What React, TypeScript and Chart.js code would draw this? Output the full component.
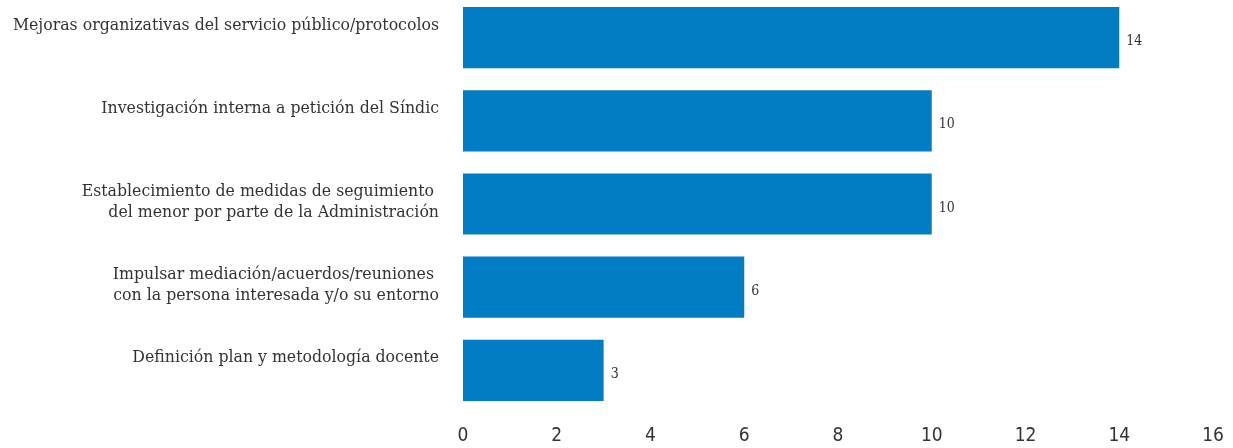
import React, { useEffect, useRef } from "react";
import { Chart, registerables } from "chart.js";

Chart.register(...registerables);

const categories: string[][] = [
  ["Mejoras organizativas del servicio público/protocolos", ""],
  ["Investigación interna a petición del Síndic", ""],
  ["Establecimiento de medidas de seguimiento ", "del menor por parte de la Administración"],
  ["Impulsar mediación/acuerdos/reuniones ", "con la persona interesada y/o su entorno"],
  ["Definición plan y metodología docente", ""],
];
const values: number[] = [14, 10, 10, 6, 3];
const xTicks: number[] = [0, 2, 4, 6, 8, 10, 12, 14, 16];

const BAR_COLOR = "#007DC5";
const SERIF = "'DejaVu Serif Condensed', 'DejaVu Serif', serif";

const valueLabels = {
  id: "valueLabels",
  afterDatasetsDraw(chart: any) {
    const ctx = chart.ctx;
    const meta = chart.getDatasetMeta(0);
    ctx.save();
    ctx.font = "14px " + SERIF;
    ctx.fillStyle = "#333";
    ctx.textAlign = "left";
    ctx.textBaseline = "middle";
    meta.data.forEach((bar: any, i: number) => {
      ctx.fillText(String(values[i]), bar.x + 7, bar.y + 4);
    });
    ctx.restore();
  },
};

export default function App() {
  const ref = useRef<HTMLCanvasElement | null>(null);
  useEffect(() => {
    if (!ref.current) return;
    const chart = new Chart(ref.current, {
      type: "bar",
      data: {
        labels: categories,
        datasets: [
          {
            data: values,
            backgroundColor: BAR_COLOR,
            borderWidth: 0,
            barPercentage: 0.735,
            categoryPercentage: 1,
          },
        ],
      },
      options: {
        indexAxis: "y",
        animation: false,
        responsive: false,
        maintainAspectRatio: false,
        layout: { padding: { left: 0, right: 20, top: 0, bottom: 0 } },
        plugins: { legend: { display: false }, tooltip: { enabled: false } },
        scales: {
          x: {
            min: 0,
            max: 16,
            afterBuildTicks(axis: any) {
              axis.ticks = xTicks.map((v) => ({ value: v }));
            },
            afterFit(axis: any) {
              axis.height = 36;
              axis.paddingLeft = 0;
              axis.paddingRight = 0;
            },
            grid: { display: false, drawTicks: false },
            border: { display: false },
            ticks: {
              padding: 13,
              color: "#333",
              font: { family: "'Liberation Sans Narrow', 'DejaVu Sans Condensed', sans-serif", size: 19, lineHeight: 1.2 },
            },
          },
          y: {
            afterFit(axis: any) {
              axis.width = 463;
              axis.paddingTop = 0;
              axis.paddingBottom = 0;
            },
            grid: { display: false, drawTicks: false },
            border: { display: false },
            ticks: {
              padding: 24,
              labelOffset: -2,
              color: "#333",
              font: { family: SERIF, size: 17.5, lineHeight: 1.2 },
            },
          },
        },
      },
      plugins: [valueLabels],
    });
    return () => chart.destroy();
  }, []);
  return (
    <div style={{ position: "absolute", left: 0, top: -4, width: 1233, height: 452 }}>
      <canvas ref={ref} width={1233} height={452} style={{ width: 1233, height: 452 }} />
    </div>
  );
}
